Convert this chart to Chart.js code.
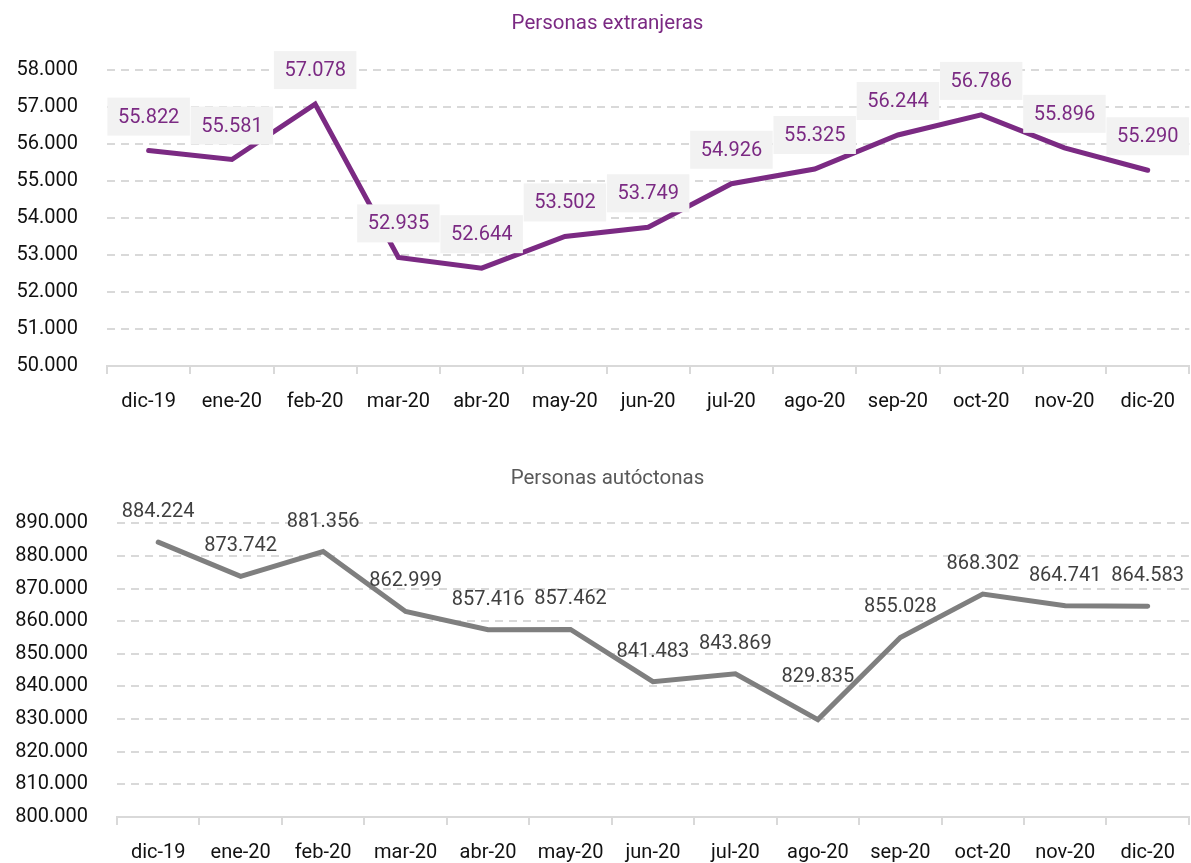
<!DOCTYPE html>
<html>
<head>
<meta charset="utf-8">
<script src="https://cdn.jsdelivr.net/npm/chart.js@4.4.0/dist/chart.umd.min.js"></script>
<style>
  html, body { margin: 0; padding: 0; background: #ffffff; }
  #w1 { position: absolute; left: 0; top: 0; width: 1191px; height: 430px; }
  #w2 { position: absolute; left: 0; top: 430px; width: 1191px; height: 433px; }
</style>
</head>
<body>
<div id="w1"><canvas id="c1"></canvas></div>
<div id="w2"><canvas id="c2"></canvas></div>
<script>
// ---- Data ----
const categories = ['dic-19','ene-20','feb-20','mar-20','abr-20','may-20','jun-20','jul-20','ago-20','sep-20','oct-20','nov-20','dic-20'];
const extranjeras = [55822, 55581, 57078, 52935, 52644, 53502, 53749, 54926, 55325, 56244, 56786, 55896, 55290];
const autoctonas = [884224, 873742, 881356, 862999, 857416, 857462, 841483, 843869, 829835, 855028, 868302, 864741, 864583];
const ticksExtranjeras = [50000, 51000, 52000, 53000, 54000, 55000, 56000, 57000, 58000];
const ticksAutoctonas = [800000, 810000, 820000, 830000, 840000, 850000, 860000, 870000, 880000, 890000];
const titleExtranjeras = 'Personas extranjeras';
const titleAutoctonas = 'Personas autóctonas';

// ---- Helpers ----
function fmt(v) {
  return String(Math.round(v)).replace(/\B(?=(\d{3})+(?!\d))/g, '.');
}
const FONT = 'Roboto, "Noto Sans", sans-serif';
const PURPLE = '#7b2a83';
const GREY_LINE = '#7f7f7f';

const valueLabels = {
  id: 'valueLabels',
  afterDatasetsDraw(chart, args, opts) {
    const ctx = chart.ctx;
    const meta = chart.getDatasetMeta(0);
    const data = chart.data.datasets[0].data;
    ctx.save();
    ctx.font = opts.fontSize + 'px ' + FONT;
    ctx.textAlign = 'center';
    ctx.textBaseline = 'middle';
    meta.data.forEach((pt, i) => {
      const txt = fmt(data[i]);
      const extra = (opts.extraOffsets && opts.extraOffsets[i]) || 0;
      const x = pt.x;
      const y = pt.y - opts.offset - extra;
      if (opts.background) {
        const w = ctx.measureText(txt).width + opts.padX * 2;
        const h = opts.boxH;
        ctx.fillStyle = opts.background;
        ctx.fillRect(x - w / 2, y - h / 2, w, h);
      }
      ctx.fillStyle = opts.color;
      ctx.fillText(txt, x, y + 1);
    });
    ctx.restore();
  }
};

const shiftTitle = {
  id: 'shiftTitle',
  afterLayout(chart, args, opts) {
    if (chart.titleBlock) {
      chart.titleBlock.left = opts.left;
    }
  }
};

function makeChart(id, values, yTicks, title, cfg) {
  return new Chart(document.getElementById(id), {
    type: 'line',
    data: {
      labels: categories,
      datasets: [{
        data: values,
        borderColor: cfg.lineColor,
        borderWidth: 5,
        pointRadius: 0,
        pointHoverRadius: 0,
        tension: 0,
        borderCapStyle: 'round',
        fill: false,
        clip: false
      }]
    },
    plugins: [valueLabels, shiftTitle],
    options: {
      responsive: true,
      maintainAspectRatio: false,
      devicePixelRatio: 1,
      animation: false,
      layout: { padding: { left: 0, right: 0, top: 0, bottom: 0 } },
      plugins: {
        legend: { display: false },
        tooltip: { enabled: false },
        title: {
          display: true,
          text: title,
          color: cfg.titleColor,
          font: { family: FONT, size: 20.5, weight: 'normal' },
          padding: cfg.titlePadding
        },
        shiftTitle: { left: 24 },
        valueLabels: cfg.labels
      },
      scales: {
        x: {
          offset: true,
          afterFit(s) { s.height = cfg.xHeight; },
          grid: {
            offset: true,
            drawOnChartArea: false,
            drawTicks: true,
            tickLength: 8,
            color: '#d9d9d9',
            lineWidth: 2
          },
          border: { display: true, color: '#d9d9d9', width: 2 },
          ticks: {
            padding: 16,
            color: '#111111',
            font: { family: FONT, size: 20 },
            maxRotation: 0,
            autoSkip: false
          }
        },
        y: {
          min: yTicks[0],
          max: yTicks[yTicks.length - 1],
          afterFit(s) { s.width = cfg.yWidth; },
          afterBuildTicks(s) { s.ticks = yTicks.map(v => ({ value: v })); },
          grid: { color: '#d9d9d9', lineWidth: 2, drawTicks: false },
          border: { display: false, dash: [8, 6] },
          ticks: {
            padding: 29,
            color: '#111111',
            font: { family: FONT, size: 20 },
            callback: v => fmt(v)
          }
        }
      }
    }
  });
}

makeChart('c1', extranjeras, ticksExtranjeras, titleExtranjeras, {
  lineColor: PURPLE,
  titleColor: PURPLE,
  titlePadding: { top: 12, bottom: 33.4 },
  xHeight: 64,
  yWidth: 107,
  labels: { fontSize: 20, color: PURPLE, offset: 34, background: '#f2f2f2', padX: 10.5, boxH: 38 }
});

makeChart('c2', autoctonas, ticksAutoctonas, titleAutoctonas, {
  lineColor: GREY_LINE,
  titleColor: '#595959',
  titlePadding: { top: 37, bottom: 31.7 },
  xHeight: 46,
  yWidth: 117,
  labels: { fontSize: 20, color: '#404040', offset: 31, background: null, extraOffsets: { 8: 13 } }
});
</script>
</body>
</html>
